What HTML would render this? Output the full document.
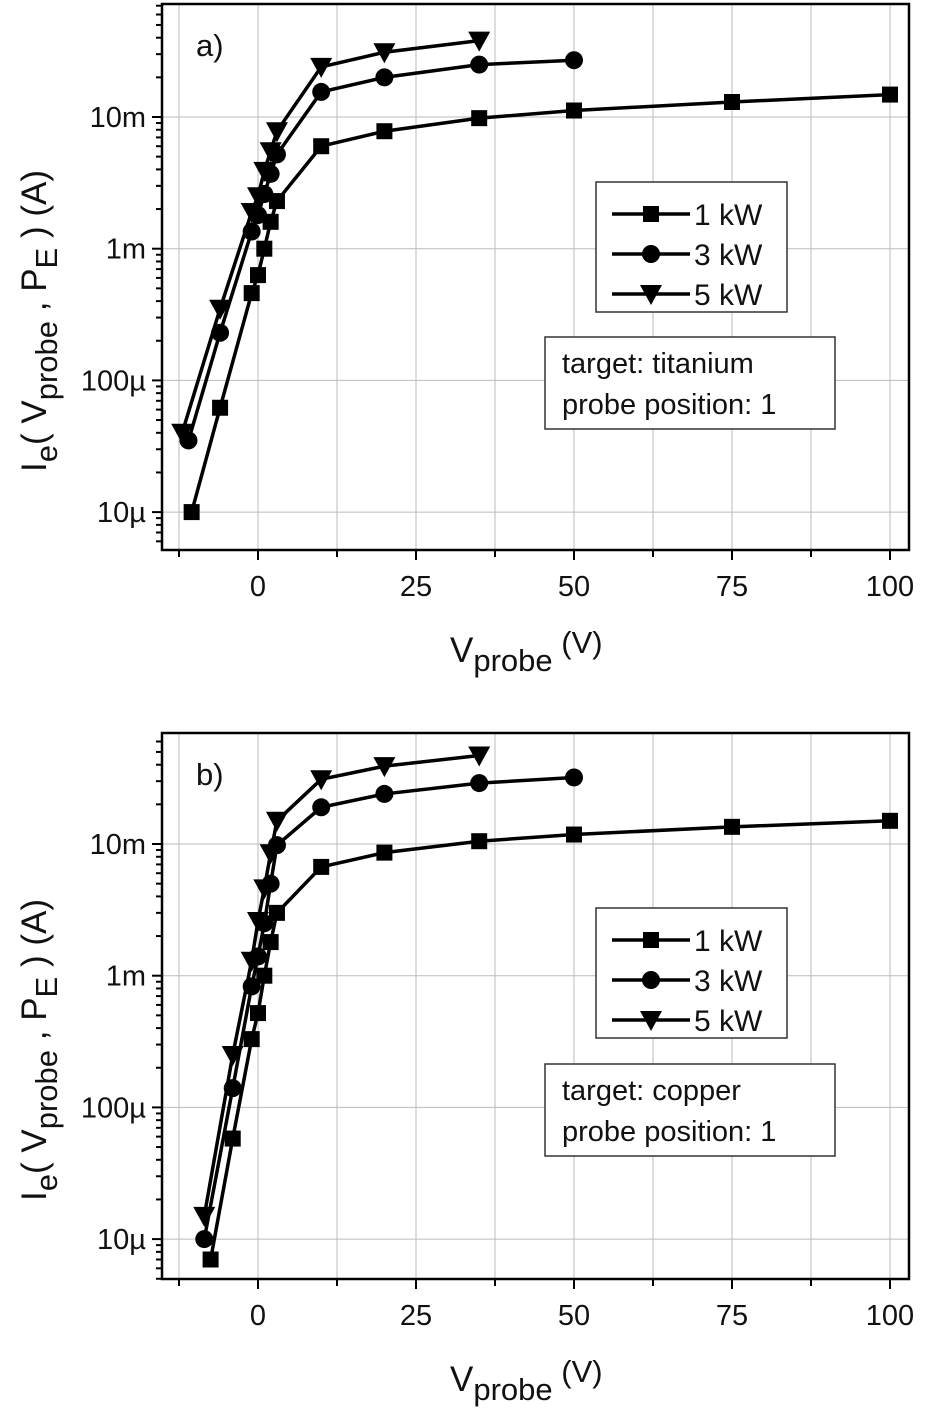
<!DOCTYPE html>
<html><head><meta charset="utf-8"><style>
body{margin:0;background:#fff;}
svg{display:block;font-family:"Liberation Sans",Arial,sans-serif;}
</style></head><body>
<svg id="chart" width="929" height="1408" viewBox="0 0 929 1408"></svg>
<script>
const xTicks=[0,25,50,75,100];
const yTickVals=[1e-5,1e-4,1e-3,1e-2];
const yTickLabels=["10µ","100µ","1m","10m"];
const seriesNames=["1 kW","3 kW","5 kW"];
const aX1=[-10.5,-6,-1,0,1,2,3,10,20,35,50,75,100];
const aY1=[10e-6,62e-6,0.46e-3,0.63e-3,1.0e-3,1.6e-3,2.3e-3,6e-3,7.8e-3,9.8e-3,11.2e-3,13e-3,14.8e-3];
const aX3=[-11,-6,-1,0,1,2,3,10,20,35,50];
const aY3=[35e-6,0.23e-3,1.35e-3,1.8e-3,2.6e-3,3.7e-3,5.2e-3,15.5e-3,20e-3,25e-3,27e-3];
const aX5=[-12,-6,-1,0,1,2,3,10,20,35];
const aY5=[40e-6,0.35e-3,1.9e-3,2.5e-3,3.9e-3,5.5e-3,7.8e-3,24e-3,31e-3,38e-3];
const bX1=[-7.5,-4,-1,0,1,2,3,10,20,35,50,75,100];
const bY1=[7e-6,58e-6,0.33e-3,0.52e-3,1.0e-3,1.8e-3,3.0e-3,6.7e-3,8.6e-3,10.5e-3,11.8e-3,13.5e-3,15e-3];
const bX3=[-8.5,-4,-1,0,1,2,3,10,20,35,50];
const bY3=[10e-6,0.14e-3,0.83e-3,1.4e-3,2.5e-3,5e-3,9.8e-3,19e-3,24e-3,29e-3,32e-3];
const bX5=[-8.5,-4,-1,0,1,2,3,10,20,35];
const bY5=[15e-6,0.25e-3,1.3e-3,2.6e-3,4.6e-3,8.5e-3,15e-3,31e-3,39e-3,47e-3];

const NS="http://www.w3.org/2000/svg";
const svg=document.getElementById('chart');
function mk(tag,attrs,parent){const e=document.createElementNS(NS,tag);for(const k in attrs)e.setAttribute(k,attrs[k]);(parent||svg).appendChild(e);return e;}

function panel(cfg){
  const L=162,R=909,T=cfg.top,B=cfg.bottom;
  const g=mk('g',{});
  
  
  const xs=v=>258+v*6.32;
  const ys=v=>cfg.y10m+(Math.log10(0.01)-Math.log10(v))*131.7;
  for(let v=-12.5;v<=100;v+=12.5){const l=mk('line',{x1:xs(v),x2:xs(v),y1:T,y2:B,stroke:'#bbb','stroke-width':1},g);
    const t=mk('line',{x1:xs(v),x2:xs(v),y1:B,y2:B+(v%25===0?10:7),stroke:'#000','stroke-width':2},g);}
  for(let e=-6;e<=-1;e++){for(let m=1;m<10;m++){const v=m*Math.pow(10,e);const y=ys(v);if(y<T||y>B)continue;
    if(m===1){const l=mk('line',{x1:L,x2:R,y1:y,y2:y,stroke:'#bbb','stroke-width':1},g);}
    const t=mk('line',{x1:L-(m===1?10:6),x2:L,y1:y,y2:y,stroke:'#000','stroke-width':2},g);}}
  const box=mk('rect',{x:L,y:T,width:R-L,height:B-T,fill:'none',stroke:'#000','stroke-width':2.5},g);
  
  xTicks.forEach(v=>{const t=mk('text',{x:xs(v),y:B+46,'font-size':29,'text-anchor':'middle',fill:'#111'},g);t.textContent=v;});
  yTickVals.forEach((v,i)=>{const t=mk('text',{x:146,y:ys(v)+10,'font-size':29,'text-anchor':'end',fill:'#111'},g);t.textContent=yTickLabels[i];});
  const shapes=['sq','ci','tri'];
  cfg.series.forEach((s,i)=>{
    const pts=s[0].map((x,j)=>[xs(x),ys(s[1][j])]);
    const p=mk('polyline',{points:pts.map(q=>q.join(',')).join(' '),fill:'none',stroke:'#000','stroke-width':3.5},g);
    
    pts.forEach(q=>marker(shapes[i],q[0],q[1],g));
  });
  const lg=mk('g',{},g);
  const lr=mk('rect',{x:596,y:cfg.leg,width:191,height:130,fill:'#fff',stroke:'#333','stroke-width':1.5},lg);
  seriesNames.forEach((n,i)=>{const y=cfg.leg+32+i*40;
    const l=mk('line',{x1:612,x2:690,y1:y,y2:y,stroke:'#000','stroke-width':3.5},lg);
    marker(shapes[i],651,y,lg);
    const t=mk('text',{x:694,y:y+11,'font-size':30,fill:'#111'},lg);t.textContent=n;});
  const ib=mk('g',{},g);
  mk('rect',{x:545,y:cfg.info,width:290,height:92,fill:'#fff',stroke:'#333','stroke-width':1.5},ib);
  const t1=mk('text',{x:562,y:cfg.info+36,'font-size':29,fill:'#111'},ib);t1.textContent=cfg.target;
  const t2=mk('text',{x:562,y:cfg.info+77,'font-size':29,fill:'#111'},ib);t2.textContent='probe position: 1';
  const pl=mk('text',{x:196,y:T+52,'font-size':31,fill:'#111'},g);pl.textContent=cfg.label;
  const xt=mk('text',{x:450,y:B+112,'font-size':35,fill:'#111'},g);
  xt.innerHTML='V<tspan font-size="31" dy="9">probe</tspan><tspan font-size="31" dy="-18"> (V)</tspan>';
  
  const yt=mk('text',{x:0,y:0,'font-size':35,fill:'#111',transform:`translate(46,${(T+B)/2+195}) rotate(-90)`},g);
  yt.innerHTML='I<tspan font-size="31" dy="11">e</tspan><tspan dy="-11">( V</tspan><tspan font-size="31" dy="11">probe</tspan><tspan dy="-11"> , P</tspan><tspan font-size="31" dy="11">E</tspan><tspan dy="-11"> ) (A)</tspan>';
  
}
function marker(t,x,y,g){let e;
  if(t==='sq')e=mk('rect',{x:x-8,y:y-8,width:16,height:16,fill:'#000'},g);
  else if(t==='ci')e=mk('circle',{cx:x,cy:y,r:9,fill:'#000'},g);
  else e=mk('polygon',{points:`${x-11},${y-9} ${x+11},${y-9} ${x},${y+11}`,fill:'#000'},g);
  }
panel({name:'panel-a-titanium',top:4,bottom:550,y10m:117,leg:182,info:337,target:'target: titanium',label:'a)',series:[[aX1,aY1],[aX3,aY3],[aX5,aY5]]});
panel({name:'panel-b-copper',top:733,bottom:1279,y10m:844,leg:908,info:1064,target:'target: copper',label:'b)',series:[[bX1,bY1],[bX3,bY3],[bX5,bY5]]});
</script>
</body></html>
